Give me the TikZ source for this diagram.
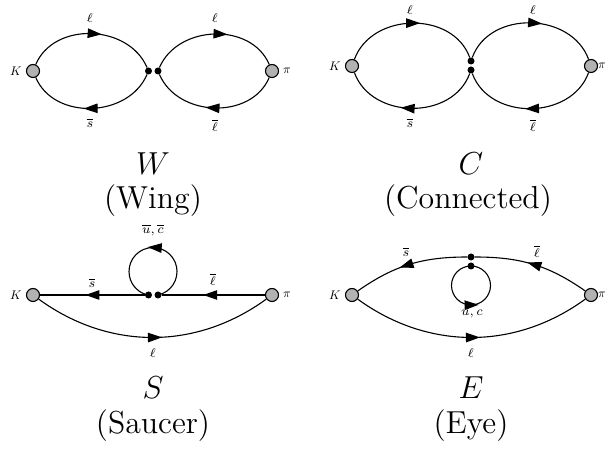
\documentclass[tikz,border=0pt]{standalone}
\usetikzlibrary{arrows.meta,decorations.markings}
\tikzset{
  x=1pt,y=1pt,
  meson/.style={circle,draw=black,line width=1.1pt,fill=black!30,minimum size=13pt,inner sep=0pt},
  vtx/.style={circle,fill=black,minimum size=7pt,inner sep=0pt},
  small/.style={inner sep=0pt,font=\fontsize{7}{8}\selectfont,scale=1.8},
  ends/.style={inner sep=0pt,font=\fontsize{10}{12}\selectfont,scale=1.25},
  big/.style={inner sep=0pt,font=\fontsize{12}{14}\selectfont,scale=2.65},
  quark/.style={line width=1.1pt,postaction={decorate},decoration={markings,mark=at position #1 with {\arrow[xshift=7pt]{Triangle[length=14pt,width=9.5pt]}}}},
  quark/.default=0.52
}
\begin{document}
\begin{tikzpicture}
\useasboundingbox (0,0) rectangle (606,452);
% W
\node[meson] (wk) at (33,381) {};
\node[meson] (wp) at (272,381) {};
\node[vtx] (wa) at (148.5,381) {};
\node[vtx] (wb) at (158,381) {};
\draw[quark] (wk) to[out=67,in=113,looseness=1.08] (wa);
\draw[quark=0.51] (wa) to[out=-113,in=-67,looseness=1.08] (wk);
\draw[quark=0.55] (wb) to[out=67,in=113,looseness=1.08] (wp);
\draw[quark=0.51] (wp) to[out=-113,in=-67,looseness=1.08] (wb);
\node[small] (wl1) at (90,434) {$\ell$};
\node[small] (wl2) at (215,434) {$\ell$};
\node[small] (ws) at (90,329) {$\overline{s}$};
\node[small] (wl3) at (215,327) {$\overline{\ell}$};
\node[ends] (wkl) at (16,381) {$K$};
\node[ends] (wpl) at (287,381) {$\pi$};
\node[big] (wt) at (153,288) {$W$};
\node[big] (wn) at (153,251) {(Wing)};
% C
\node[meson] (ck) at (352,386) {};
\node[meson] (cp) at (591,386) {};
\node[vtx] (ca) at (471,391) {};
\node[vtx] (cb) at (471,382) {};
\draw[quark=0.51] (ck) to[out=70,in=110,looseness=1.11] (ca);
\draw[quark=0.53] (ca) to[out=70,in=110,looseness=1.11] (cp);
\draw[quark=0.49] (cp) to[out=-110,in=-70,looseness=1.11] (cb);
\draw[quark=0.53] (cb) to[out=-110,in=-70,looseness=1.11] (ck);
\node[small] (cl1) at (410,442) {$\ell$};
\node[small] (cl2) at (533,442) {$\ell$};
\node[small] (cs) at (410,329) {$\overline{s}$};
\node[small] (cl3) at (533,327) {$\overline{\ell}$};
\node[ends] (ckl) at (335,386) {$K$};
\node[ends] (cpl) at (602,386) {$\pi$};
\node[big] (ct) at (471,288) {$C$};
\node[big] (cn) at (468,251) {(Connected)};
% S
\node[meson] (sk) at (33,157) {};
\node[meson] (sp) at (272,157) {};
\node[vtx] (sa) at (148.5,157) {};
\node[vtx] (sb) at (158,157) {};
\draw[quark=0.53] (sp) -- (sb);
\draw[quark=0.50] (sa) -- (sk);
\draw[quark=0.488] (sb.center) arc[start angle=-78,end angle=258,radius=24];
\draw[quark=0.51] (sk) to[out=-36,in=-144,looseness=0.98] (sp);
\node[small] (su) at (153,222) {$\overline{u},\overline{c}$};
\node[small] (ss) at (92,169) {$\overline{s}$};
\node[small] (sl3) at (213,173) {$\overline{\ell}$};
\node[small] (sl) at (153,99) {$\ell$};
\node[ends] (skl) at (16,157) {$K$};
\node[ends] (spl) at (287,157) {$\pi$};
\node[big] (st) at (153,64) {$S$};
\node[big] (sn) at (153,26) {(Saucer)};
% E
\node[meson] (ek) at (352,157) {};
\node[meson] (ep) at (591,157) {};
\node[vtx] (ea) at (471,195) {};
\node[vtx] (eb) at (471,186) {};
\draw[quark=0.49] (ep) to[out=145,in=0] (ea);
\draw[quark=0.53] (ea) to[out=180,in=35] (ek);
\draw[quark=0.505] (eb.center) arc[start angle=90,end angle=450,radius=19.5];
\draw[quark=0.506] (ek) to[out=-36,in=-144,looseness=0.98] (ep);
\node[small] (es) at (406,200) {$\overline{s}$};
\node[small] (el3) at (537,201) {$\overline{\ell}$};
\node[small] (eu) at (472,138) {$u,c$};
\node[small] (el) at (471,99) {$\ell$};
\node[ends] (ekl) at (335,157) {$K$};
\node[ends] (epl) at (602,157) {$\pi$};
\node[big] (et) at (471,64) {$E$};
\node[big] (en) at (471,26) {(Eye)};
\end{tikzpicture}
\end{document}
